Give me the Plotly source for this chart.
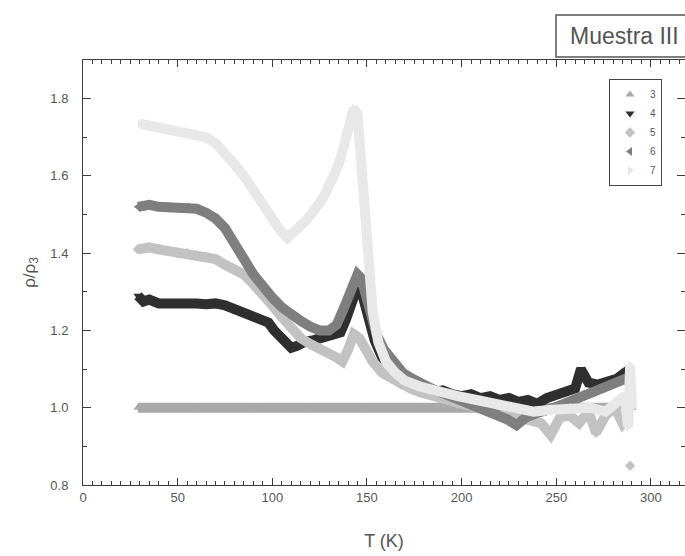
import plotly.graph_objects as go

# Temperature (K) and normalised resistivity rho/rho_3 for each measurement run
T3 = [29, 60, 90, 120, 150, 180, 210, 240, 270, 290]
R3 = [1.0, 1.0, 1.0, 1.0, 1.0, 1.0, 1.0, 1.0, 1.0, 1.0]

T4 = [29, 32, 35, 40, 45, 50, 55, 60, 65, 70, 75, 80, 85, 90, 95, 98, 101, 104,
      107, 110, 113, 117, 122, 127, 132, 136, 139, 142, 144, 146, 148, 151, 154,
      158, 163, 168, 173, 178, 184, 190, 195, 200, 205, 210, 215, 220, 225, 230,
      235, 240, 245, 250, 255, 260, 263, 267, 272, 277, 282, 286, 289]
R4 = [1.29, 1.275, 1.28, 1.27, 1.27, 1.272, 1.268, 1.27, 1.268, 1.27, 1.265,
      1.255, 1.245, 1.235, 1.225, 1.22, 1.20, 1.185, 1.17, 1.155, 1.16, 1.17,
      1.175, 1.18, 1.185, 1.195, 1.23, 1.27, 1.30, 1.30, 1.285, 1.23, 1.175, 1.13,
      1.10, 1.08, 1.065, 1.05, 1.04, 1.045, 1.035, 1.03, 1.035, 1.025, 1.03, 1.02,
      1.025, 1.015, 1.02, 1.01, 1.025, 1.035, 1.04, 1.05, 1.10, 1.065, 1.06, 1.07,
      1.075, 1.09, 1.10]

T5 = [29, 35, 40, 45, 50, 55, 60, 65, 70, 75, 80, 85, 90, 95, 100, 105, 110,
      115, 120, 125, 130, 134, 137, 140, 143, 146, 149, 153, 158, 163, 168, 173,
      178, 188, 198, 208, 218, 228, 236, 242, 247, 252, 257, 262, 267, 271, 276,
      281, 285, 288]
R5 = [1.41, 1.415, 1.41, 1.405, 1.40, 1.40, 1.395, 1.39, 1.385, 1.37, 1.36,
      1.345, 1.32, 1.295, 1.265, 1.235, 1.205, 1.18, 1.165, 1.155, 1.14, 1.13,
      1.12, 1.15, 1.19, 1.18, 1.15, 1.12, 1.09, 1.075, 1.06, 1.05, 1.04, 1.025,
      1.01, 1.0, 0.99, 0.98, 0.97, 0.96, 0.93, 0.975, 0.98, 0.96, 0.99, 0.935,
      0.98, 1.0, 0.96, 0.98]
# isolated point at the end of run 5
T5_tail = [289]
R5_tail = [0.85]

T6 = [29, 35, 40, 45, 50, 55, 60, 65, 70, 75, 80, 85, 90, 95, 100, 105, 110,
      115, 120, 125, 130, 134, 138, 141, 143, 145, 147, 149, 152, 155, 159, 164,
      169, 174, 179, 184, 189, 194, 199, 204, 209, 214, 219, 224, 229, 234, 239,
      244, 249, 254, 259, 264, 269, 274, 279, 284, 289]
R6 = [1.52, 1.525, 1.52, 1.52, 1.515, 1.52, 1.515, 1.505, 1.49, 1.465, 1.43,
      1.385, 1.345, 1.31, 1.285, 1.26, 1.24, 1.225, 1.21, 1.20, 1.20, 1.215, 1.26,
      1.30, 1.33, 1.345, 1.335, 1.30, 1.24, 1.19, 1.15, 1.115, 1.09, 1.075, 1.06,
      1.05, 1.04, 1.03, 1.02, 1.01, 1.0, 0.995, 0.985, 0.97, 0.955, 0.975, 0.985,
      0.99, 1.0, 1.01, 1.02, 1.035, 1.04, 1.05, 1.06, 1.075, 1.08]

T7 = [30, 35, 40, 45, 50, 55, 60, 65, 70, 75, 80, 85, 90, 95, 100, 104, 108,
      112, 117, 122, 127, 131, 135, 138, 141, 143, 145, 147, 149, 151, 153, 156,
      160, 165, 170, 178, 188, 198, 208, 218, 228, 238, 248, 258, 268, 276, 282,
      286, 288, 289, 290]
R7 = [1.735, 1.73, 1.725, 1.72, 1.718, 1.715, 1.71, 1.70, 1.685, 1.66, 1.63,
      1.60, 1.56, 1.525, 1.49, 1.46, 1.44, 1.455, 1.48, 1.51, 1.545, 1.585, 1.63,
      1.68, 1.74, 1.775, 1.76, 1.62, 1.48, 1.35, 1.25, 1.17, 1.12, 1.09, 1.07,
      1.055, 1.04, 1.03, 1.02, 1.01, 1.0, 0.99, 0.995, 1.0, 1.0, 0.99, 1.01,
      1.03, 0.95, 1.11, 1.0]

LABELS = ["3", "4", "5", "6", "7"]
COLORS = ["#a9a9a9", "#2f2f2f", "#c2c2c2", "#7f7f7f", "#e8e8e8"]
SYMBOLS = ["triangle-up", "triangle-down", "diamond", "triangle-left", "triangle-right"]

series = [
    (T3, R3, T3, R3),
    (T4, R4, T4, R4),
    (T5, R5, T5 + T5_tail, R5 + R5_tail),
    (T6, R6, T6, R6),
    (T7, R7, T7, R7),
]

fig = go.Figure()
for (tl, rl, tm, rm), lab, col, sym in zip(series, LABELS, COLORS, SYMBOLS):
    # dense measurement points form a thick band
    fig.add_trace(go.Scatter(
        x=tl, y=rl, mode="lines", showlegend=False, hoverinfo="skip",
        line=dict(color=col, width=10, shape="linear"),
    ))
    fig.add_trace(go.Scatter(
        x=tm, y=rm, mode="markers", name=lab,
        marker=dict(symbol=sym, size=8, color=col, line=dict(width=0)),
    ))

FONT = "Liberation Sans, Arial, sans-serif"
AX = "#3c3c3c"
TXT = "#555555"

# plot area: x 83..685 px, y 60..485 px
def px_x(p):
    return (p - 83) / 602

def px_y(p):
    return (485 - p) / 425

fig.update_layout(
    width=685, height=556,
    margin=dict(l=83, r=0, t=60, b=71),
    paper_bgcolor="white", plot_bgcolor="white",
    font=dict(family=FONT, color=TXT, size=13),
    legend=dict(
        x=px_x(609), y=px_y(79), xanchor="left", yanchor="top",
        bordercolor="#444444", borderwidth=1, bgcolor="white",
        font=dict(size=10, color=TXT),
        tracegroupgap=0,
    ),
    shapes=[dict(
        type="rect", xref="paper", yref="paper",
        x0=px_x(556), x1=px_x(700), y0=px_y(57), y1=px_y(15),
        line=dict(color="#555555", width=1.5), fillcolor="white", layer="above",
    )],
    annotations=[dict(
        text="Muestra III", xref="paper", yref="paper",
        x=px_x(568), y=px_y(36), xanchor="left", yanchor="middle",
        showarrow=False, font=dict(size=23, color=TXT, family=FONT),
    )],
)

fig.update_xaxes(
    range=[0, 318], tickmode="linear", tick0=0, dtick=50,
    ticks="inside", ticklen=7, tickwidth=1.2, tickcolor=AX,
    minor=dict(tickmode="linear", tick0=0, dtick=5, ticks="inside",
               ticklen=4, tickwidth=1.2, tickcolor=AX),
    showline=True, linecolor=AX, linewidth=1.3, mirror="allticks",
    showgrid=False, zeroline=False,
    title=dict(text="T (K)", font=dict(size=18, color=TXT), standoff=30),
)
fig.update_yaxes(
    range=[0.8, 1.9], tickmode="linear", tick0=0.8, dtick=0.2, tickformat=".1f",
    ticksuffix="   ",
    ticks="inside", ticklen=8, tickwidth=1.2, tickcolor=AX,
    minor=dict(tickmode="linear", tick0=0.8, dtick=0.1, ticks="inside",
               ticklen=4, tickwidth=1.2, tickcolor=AX),
    showline=True, linecolor=AX, linewidth=1.3, mirror="allticks",
    showgrid=False, zeroline=False,
    title=dict(text="ρ/ρ<sub>3</sub>", font=dict(size=17, color=TXT), standoff=10),
)

fig.write_html("out.html")
